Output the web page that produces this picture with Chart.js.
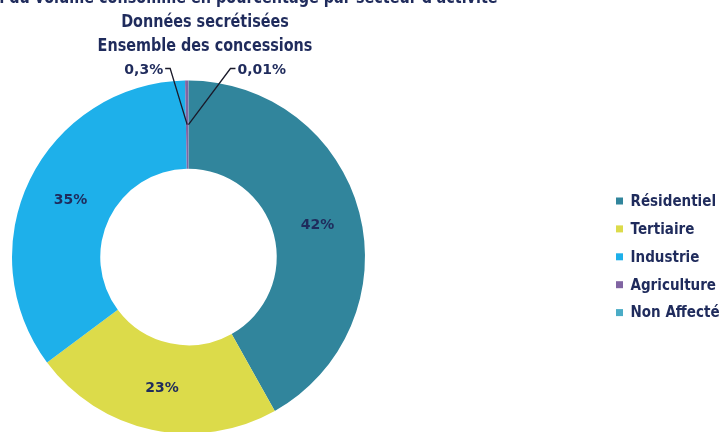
<!DOCTYPE html>
<html lang="fr">
<head>
<meta charset="utf-8">
<title>Volume consommé par secteur</title>
<script src="https://cdn.jsdelivr.net/npm/chart.js@4.4.1/dist/chart.umd.min.js"></script>
<style>
  html, body { margin: 0; padding: 0; background: #fff; overflow: hidden; }
  #zone { position: relative; width: 721px; height: 440px; }
</style>
</head>
<body>
<div id="zone"><canvas id="graphique" width="721" height="440"></canvas></div>
<script>
// Données du graphique
const secteurs = ["Résidentiel", "Tertiaire", "Industrie", "Agriculture", "Non Affecté"];
const parts = [42, 23, 35, 0.3, 0.01];
const etiquettes = ["42%", "23%", "35%", "0,3%", "0,01%"];
const couleurs = ["#31859c", "#dcdb4a", "#1eb0ea", "#8064a2", "#4bacc6"];
const titres = [
  "Répartition du volume consommé en pourcentage par secteur d'activité",
  "Données secrétisées",
  "Ensemble des concessions"
];

const ENCRE = "#1f2b5c";
const POLICE = '"DejaVu Sans", sans-serif';

// texte gras resserré horizontalement
function texteSerre(ctx, t, x, y, serre) {
  ctx.save();
  ctx.translate(x, y);
  ctx.scale(serre, 1);
  ctx.fillText(t, 0, 0);
  ctx.restore();
}

// Titre, étiquettes et légende dessinés après le graphique
const habillage = {
  id: "habillage",
  afterDraw(chart) {
    const ctx = chart.ctx;
    const arcs = chart.getDatasetMeta(0).data;
    ctx.save();
    ctx.fillStyle = ENCRE;
    ctx.textAlign = "center";
    ctx.textBaseline = "alphabetic";

    // titre sur trois lignes
    ctx.font = "bold 18px " + POLICE;
    titres.forEach((t, i) => texteSerre(ctx, t, 205, 3 + i * 24, 0.8));

    // pourcentages dans l'anneau
    ctx.font = "bold 14px " + POLICE;
    ctx.textBaseline = "middle";
    arcs.forEach((arc, i) => {
      if (parts[i] < 1) return;
      const p = arc.getCenterPoint();
      ctx.fillText(etiquettes[i], p.x + 1, p.y + 2);
    });

    // petites parts : étiquettes avec trait de rappel
    const haut = arcs[0].y - arcs[0].outerRadius - 12;
    ctx.strokeStyle = "#1a1a2a";
    ctx.lineWidth = 1.3;
    [[3, -1, 17], [4, 1, 42]].forEach(([i, sens, ecart]) => {
      const p = arcs[i].getCenterPoint();
      const coude = p.x + sens * ecart;
      ctx.beginPath();
      ctx.moveTo(p.x, p.y);
      ctx.lineTo(coude, haut);
      ctx.lineTo(coude + sens * 5, haut);
      ctx.stroke();
      ctx.textAlign = sens < 0 ? "right" : "left";
      ctx.fillText(etiquettes[i], coude + sens * 7, haut + 2);
    });

    // légende
    ctx.textAlign = "left";
    ctx.font = "bold 15px " + POLICE;
    secteurs.forEach((s, i) => {
      const y = 201 + i * 27.9;
      ctx.fillStyle = couleurs[i];
      ctx.fillRect(616, y - 3.5, 7, 7);
      ctx.fillStyle = ENCRE;
      texteSerre(ctx, s, 630.5, y + 1, 0.9);
    });
    ctx.restore();
  }
};

new Chart(document.getElementById("graphique"), {
  type: "doughnut",
  data: {
    labels: secteurs,
    datasets: [{
      data: parts,
      backgroundColor: couleurs,
      borderWidth: 0
    }]
  },
  options: {
    responsive: false,
    animation: false,
    cutout: "50%",
    layout: { padding: { top: 80, bottom: 6, left: 12, right: 356 } },
    plugins: {
      legend: { display: false },
      title: { display: false },
      tooltip: { enabled: false }
    }
  },
  plugins: [habillage]
});
</script>
</body>
</html>
